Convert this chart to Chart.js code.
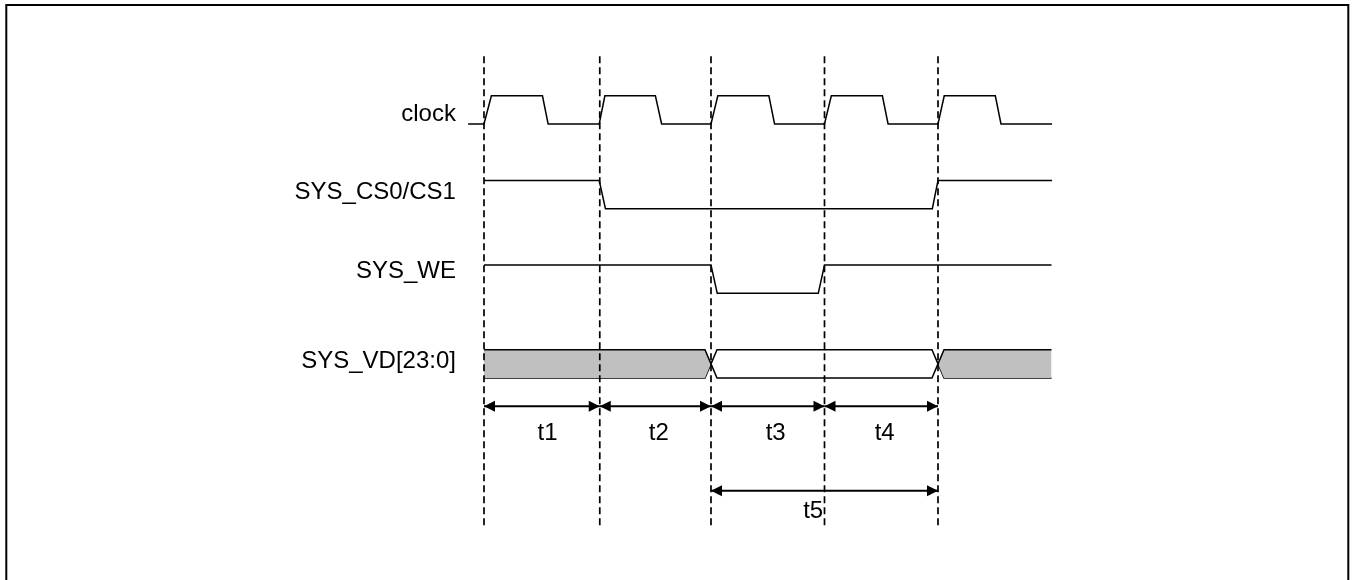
<!DOCTYPE html>
<html>
<head>
<meta charset="utf-8">
<script src="https://cdn.jsdelivr.net/npm/chart.js@4.4.1/dist/chart.umd.min.js"></script>
<style>
  html, body { margin: 0; padding: 0; background: #fff; }
  #wrap { width: 1353px; height: 580px; }
</style>
</head>
<body>
<div id="wrap"><canvas id="timing" width="1353" height="580"></canvas></div>
<script>
// signals, top to bottom
var signalNames = ["clock", "SYS_CS0/CS1", "SYS_WE", "SYS_VD[23:0]"];

// time is in clock cycles, levels are 0 (low) / 1 (high)
var clockEdges = [0, 1.02, 2, 3, 4];
var clockT = [-0.14, 0, 0.065, 0.515, 0.565, 1.015, 1.065, 1.51, 1.565, 2, 2.06, 2.51, 2.56,
              3, 3.06, 3.51, 3.56, 4, 4.055, 4.505, 4.555, 5.005];
var clockV = [0, 0, 1, 1, 0, 0, 1, 1, 0, 0, 1, 1, 0, 0, 1, 1, 0, 0, 1, 1, 0, 0];
var csT = [0, 1.015, 1.07, 3.95, 4.0, 5.005];
var csV = [1, 1, 0, 0, 1, 1];
var weT = [0, 2.0, 2.055, 2.945, 3.0, 5.0];
var weV = [1, 1, 0, 0, 1, 1];
// data bus: segment boundaries, and whether the segment is the written word
var busT = [0, 2, 4, 5];
var busWrite = [0, 1, 0];
var busSwing = 0.053;

// timing parameters
var timingNames = ["t1", "t2", "t3", "t4", "t5"];
var timingFrom = [0, 1.02, 2, 3, 2];
var timingTo = [1.02, 2, 3, 4, 4];
var timingRow = [0, 0, 0, 0, 1];

// layout (pixels)
var W = 1353, H = 580;
var X0 = 484, XU = 113.5;   // pixel of t=0, pixels per cycle
var Y0 = 124, YU = 28.22;   // pixel of clock low, pixels per level unit
var ROW = 3;                // level units between signal rows
var labelYOff = [0.35, 0.57, 0.77, 0.59];
var labelShift = [0.05, 0.03, 0.07, 0.03, -0.1];
var arrowY = [-10, -13];
var arrowLabelY = [-10.96, -13.74];
var dashTop = 2.4, dashBottom = -14.28;
var FONT = "24px 'Liberation Sans', Arial, sans-serif";

function wave(ts, vs, row) {
  return ts.map(function (t, i) { return {x: t, y: vs[i] - ROW * row}; });
}

var datasets = [];

// dashed clock-edge markers
clockEdges.forEach(function (e) {
  datasets.push({
    data: [{x: e, y: dashTop}, {x: e, y: dashBottom}],
    showLine: true, borderColor: "#000", borderWidth: 1.7, borderDash: [7, 4], fill: false
  });
});

var sigLine = {showLine: true, borderColor: "#000", borderWidth: 1.5, fill: false};
datasets.push(Object.assign({data: wave(clockT, clockV, 0)}, sigLine));
datasets.push(Object.assign({data: wave(csT, csV, 1)}, sigLine));
datasets.push(Object.assign({data: wave(weT, weV, 2)}, sigLine));

// bus segments: top edge fills down to bottom edge when it is old data
function busSegment(k, row) {
  var t0 = busT[k], t1 = busT[k + 1];
  var hi = 1 - ROW * row, lo = 0 - ROW * row, mid = (hi + lo) / 2;
  var upper = [], lower = [];
  if (k > 0) {
    upper.push({x: t0, y: mid}, {x: t0 + busSwing, y: hi});
    lower.push({x: t0, y: mid}, {x: t0 + busSwing, y: lo});
  } else {
    upper.push({x: t0, y: hi});
    lower.push({x: t0, y: lo});
  }
  if (k < busT.length - 2) {
    upper.push({x: t1 - busSwing, y: hi}, {x: t1, y: mid});
    lower.push({x: t1 - busSwing, y: lo}, {x: t1, y: mid});
  } else {
    upper.push({x: t1, y: hi});
    lower.push({x: t1, y: lo});
  }
  var gray = !busWrite[k];
  datasets.push({data: upper, showLine: true, borderColor: "#000", borderWidth: 1.5,
    fill: gray ? "+1" : false, backgroundColor: "#c0c0c0"});
  datasets.push({data: lower, showLine: true, borderColor: "#000", borderWidth: 1.5, fill: false});
}
for (var k = 0; k < busT.length - 1; k++) busSegment(k, 3);

// timing arrows (shafts)
timingNames.forEach(function (n, i) {
  var y = arrowY[timingRow[i]];
  datasets.push({data: [{x: timingFrom[i], y: y}, {x: timingTo[i], y: y}],
    showLine: true, borderColor: "#000", borderWidth: 2, fill: false});
});

var overlay = {
  id: "overlay",
  beforeDraw: function (chart) {
    var c = chart.ctx;
    c.save();
    c.fillStyle = "#fff";
    c.fillRect(0, 0, W, H);
    c.restore();
  },
  afterDatasetsDraw: function (chart) {
    var c = chart.ctx, xs = chart.scales.x, ys = chart.scales.y;
    c.save();
    // arrow heads
    c.fillStyle = "#000";
    timingNames.forEach(function (n, i) {
      var y = ys.getPixelForValue(arrowY[timingRow[i]]);
      [[timingFrom[i], 1], [timingTo[i], -1]].forEach(function (p) {
        var x = xs.getPixelForValue(p[0]);
        c.beginPath();
        c.moveTo(x, y);
        c.lineTo(x + p[1] * 11, y - 5.5);
        c.lineTo(x + p[1] * 11, y + 5.5);
        c.closePath();
        c.fill();
      });
    });
    // text
    c.font = FONT;
    c.fillStyle = "#000";
    c.textBaseline = "middle";
    c.textAlign = "right";
    signalNames.forEach(function (s, i) {
      c.fillText(s, xs.getPixelForValue(-0.247), ys.getPixelForValue(labelYOff[i] - ROW * i));
    });
    c.textAlign = "center";
    timingNames.forEach(function (n, i) {
      var xm = (timingFrom[i] + timingTo[i]) / 2 + labelShift[i];
      c.fillText(n, xs.getPixelForValue(xm), ys.getPixelForValue(arrowLabelY[timingRow[i]]));
    });
    // frame
    c.strokeStyle = "#000";
    c.lineWidth = 2;
    c.strokeRect(6.3, 5, 1342, 620);
    c.restore();
  }
};

new Chart(document.getElementById("timing"), {
  type: "scatter",
  data: {datasets: datasets},
  options: {
    responsive: false,
    animation: false,
    devicePixelRatio: 1,
    events: [],
    layout: {padding: 0},
    elements: {point: {radius: 0, hoverRadius: 0}, line: {tension: 0}},
    plugins: {legend: {display: false}, tooltip: {enabled: false}},
    scales: {
      x: {type: "linear", display: false, min: -X0 / XU, max: (W - X0) / XU},
      y: {type: "linear", display: false, min: Y0 / YU - H / YU, max: Y0 / YU}
    }
  },
  plugins: [overlay]
});
</script>
</body>
</html>
